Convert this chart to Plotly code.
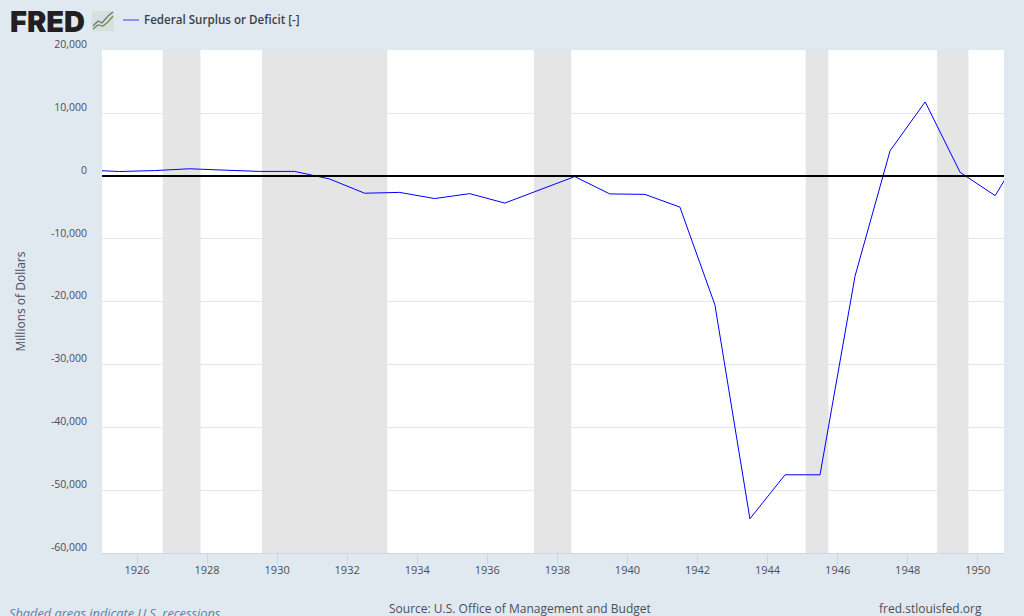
import plotly.graph_objects as go

years = list(range(1924, 1952))
deficit = [963, 717, 865, 1155, 939, 734, 738, -462, -2735, -2602, -3586, -2803, -4304, -2193,
           -89, -2846, -2920, -4941, -20503, -54554, -47557, -47553, -15936, 4018, 11796, 580,
           -3119, 6102]
dates = [f"{y}-07-01" for y in years]
recession_starts = ["1926-09-27", "1929-07-27", "1937-05-01", "1945-02-01", "1948-11-01"]
recession_ends = ["1927-10-25", "1933-02-23", "1938-05-25", "1945-09-25", "1949-09-25"]
x_ticks = [f"{y}-01-01" for y in range(1926, 1951, 2)]
x_labels = [str(y) for y in range(1926, 1951, 2)]
y_ticks = [-60000, -50000, -40000, -30000, -20000, -10000, 0, 10000, 20000]
y_labels = ["-60,000", "-50,000", "-40,000", "-30,000", "-20,000", "-10,000", "0", "10,000", "20,000"]
series_name = "Federal Surplus or Deficit [-]"

BG = "#e1e9f0"
TXT = "#4a4f57"
FONT = "Open Sans"

fig = go.Figure()
fig.add_trace(go.Scatter(x=dates, y=deficit, mode="lines", name=series_name,
                         line=dict(color="#0000ff", width=1), hoverinfo="x+y"))

shapes = []
for a, b in zip(recession_starts, recession_ends):
    shapes.append(dict(type="rect", xref="x", yref="paper", x0=a, x1=b, y0=0, y1=1,
                       fillcolor="#e5e5e5", line_width=0, layer="below"))
shapes.append(dict(type="line", xref="paper", yref="y", x0=0, x1=1, y0=0, y1=0,
                   line=dict(color="#000000", width=2), layer="above"))

W, H = 1024, 616
L, R, T, B = 102, 20, 50, 63
PW, PH = W - L - R, H - T - B
def px(v): return (v - L) / PW
def py(v): return (H - B - v) / PH

# logo icon and the legend key
shapes.append(dict(type="rect", xref="paper", yref="paper", x0=px(92), x1=px(114), y0=py(31), y1=py(11),
                   fillcolor="#d9dfdc", line_width=0, layer="above"))
shapes.append(dict(type="path", xref="paper", yref="paper",
                   path=f"M {px(93)} {py(26)} L {px(98)} {py(21)} L {px(102)} {py(23)} L {px(108)} {py(16)} L {px(113)} {py(12)}",
                   line=dict(color="#5f7688", width=1.2), layer="above"))
shapes.append(dict(type="path", xref="paper", yref="paper",
                   path=f"M {px(93)} {py(29)} L {px(98)} {py(25)} L {px(103)} {py(26)} L {px(108)} {py(22)} L {px(113)} {py(16)}",
                   line=dict(color="#6a8f3f", width=1.2), layer="above"))
shapes.append(dict(type="line", xref="paper", yref="paper", x0=px(123), x1=px(139), y0=py(20), y1=py(20),
                   line=dict(color="#6f6fff", width=1.5), layer="above"))

def note(text, x, y, **kw):
    return dict(text=text, xref="paper", yref="paper", x=px(x), y=py(y), showarrow=False,
                xanchor=kw.pop("xanchor", "left"), yanchor="middle", **kw)

annotations = [
    note("FRED", 8, 21, font=dict(family="Inter", size=29, color="#231f20", weight=900)),
    note(series_name, 142, 20, font=dict(family=FONT, size=11.6, color="#3a3f47", weight=600)),
    note("Shaded areas indicate U.S. recessions", 7, 613,
         font=dict(family=FONT, size=12.8, color="#5b7fa8", style="italic")),
    note("Source: U.S. Office of Management and Budget", 387, 608,
         font=dict(family=FONT, size=12, color=TXT)),
    note("fred.stlouisfed.org", 877, 608, font=dict(family=FONT, size=12, color=TXT)),
]

fig.update_layout(
    width=W, height=H, autosize=False,
    margin=dict(l=L, r=R, t=T, b=B),
    paper_bgcolor=BG, plot_bgcolor="#ffffff",
    font=dict(family=FONT, size=12, color=TXT),
    showlegend=False,
    shapes=shapes, annotations=annotations,
    xaxis=dict(range=["1925-01-01", "1950-10-01"], tickvals=x_ticks, ticktext=x_labels,
               showgrid=False, ticks="outside", ticklen=10, tickcolor="#ccd6eb", tickwidth=1,
               showline=True, linecolor="#ccd6eb", linewidth=1, zeroline=False, automargin=False,
               tickfont=dict(family=FONT, size=11, color=TXT), ticklabelshift=0,
               ticklabelstandoff=-3),
    yaxis=dict(range=[-60000, 20060], tickvals=y_ticks, ticktext=y_labels,
               showgrid=True, gridcolor="#e6e6e6", gridwidth=1, zeroline=False,
               ticks="", showline=False, automargin=False,
               tickfont=dict(family=FONT, size=10.5, color=TXT), ticklabelshift=-6,
               ticklabelstandoff=14,
               title=dict(text="Millions of Dollars", font=dict(family=FONT, size=12, color=TXT),
                          standoff=22)),
)

fig.write_html("out.html", config=dict(displayModeBar=False),
               post_script="document.body.style.margin='0';document.body.style.background='#e1e9f0';document.body.style.overflow='hidden';")
